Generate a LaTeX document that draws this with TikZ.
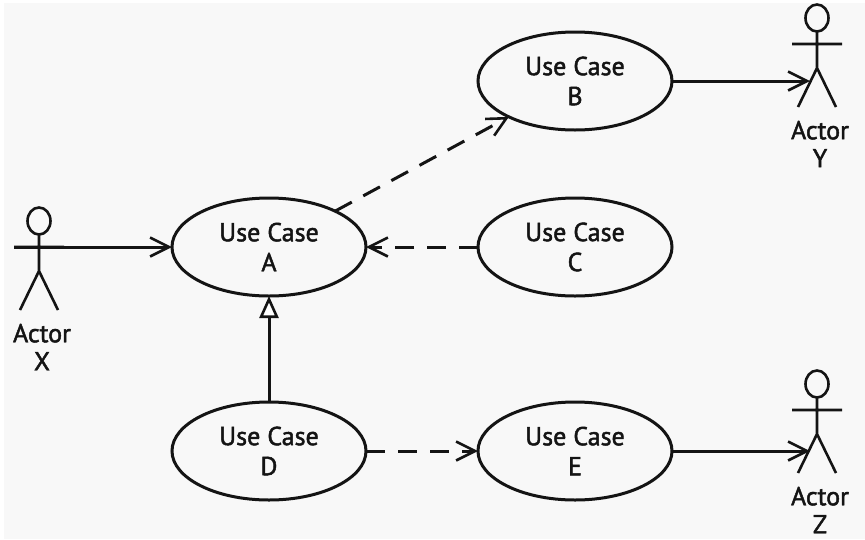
\documentclass[tikz,border=0pt]{standalone}
\usepackage{fontspec}
\setmainfont{PT Sans}[RawFeature={embolden=1.8}]
\usetikzlibrary{arrows.meta,shapes.geometric}
\definecolor{paperFig}{HTML}{F8F8F8}
\definecolor{inkFig}{HTML}{141414}
\tikzset{useCaseFig/.style={x=1pt,y=-1pt,line width=3pt,draw=inkFig,text=inkFig,
                    font=\fontsize{26}{30}\selectfont},
                    caseNode/.style={draw,ellipse,minimum width=194pt,minimum height=98pt,
                    inner sep=0pt,outer sep=0pt,align=center},
                    headNode/.style={draw,ellipse,minimum width=23pt,minimum height=27pt,
                    inner sep=0pt,outer sep=0pt,line width=2.6pt},
                    labelNode/.style={align=center,inner sep=0pt,font=\fontsize{26}{28}\selectfont},
                    assoc/.style={-{Straight Barb[length=19pt,width=19pt,line width=2.6pt]}},
                    dep/.style={assoc,dash pattern=on 19pt off 13pt},
                    gen/.style={-{Triangle[open,length=22pt,width=19pt,line width=2.6pt,fill=white]}},
                    actorFig/.pic={
                    	\node [headNode] (head) at (0,-26) {};
                    	\coordinate (armL) at (-25,0);
                    	\coordinate (armR) at (25,0);
                    	\coordinate (hip) at (0,24);
                    	\coordinate (legL) at (-19,63);
                    	\coordinate (legR) at (19,63);
                    	\draw [line width=2.6pt] (head) -- (hip) (armL) -- (armR) (legL) -- (hip) -- (legR);
                    	\node [labelNode] (name) at (3,100) {Actor\\#1};
                    }}

\begin{document}
\begin{tikzpicture}[useCaseFig]
			\useasboundingbox (0,0) rectangle (865,539);
			\fill [paperFig] (4,3) rectangle (865,539);
			%USE CASES
			\node [caseNode] (ucA) at (269,247)     {Use Case\\A};
			\node [caseNode] (ucB) at (575,81)     {Use Case\\B};
			\node [caseNode] (ucC) at (575,247)     {Use Case\\C};
			\node [caseNode] (ucD) at (269,451)     {Use Case\\D};
			\node [caseNode] (ucE) at (575,451)     {Use Case\\E};
			%ACTORS
			\pic (actX) at (39,247) {actorFig=X};
			\pic (actY) at (817,44) {actorFig=Y};
			\pic (actZ) at (817,410) {actorFig=Z};
			\coordinate (hitY) at (810,81);
			\coordinate (hitZ) at (810,451);
			
			%
			\path
			(actXarmL) edge [assoc] (ucA)
			(ucB) edge [assoc] (hitY)
			(ucE) edge [assoc] (hitZ)
			
			(ucA) edge [dep] (ucB)
			(ucC) edge [dep] (ucA)
			(ucD) edge [dep] (ucE)
			
			(ucD) edge [gen] (ucA)
			;
\end{tikzpicture}
\end{document}
